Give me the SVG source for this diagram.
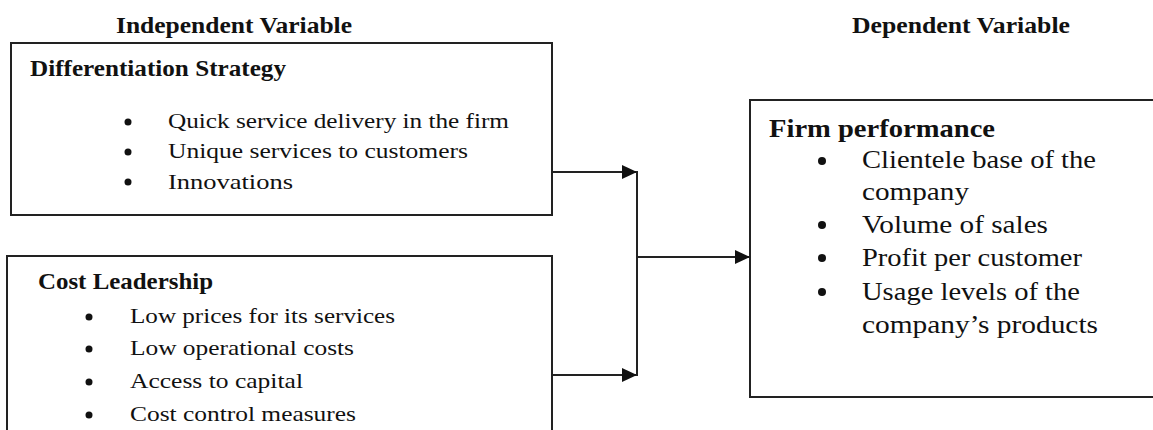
<svg xmlns="http://www.w3.org/2000/svg" width="1153" height="430" viewBox="0 0 1153 430">
<defs>
<style>
.box{fill:#fff;stroke:#222;stroke-width:2}
.t{font-family:"Liberation Serif","Times New Roman",serif;fill:#111}
.h{font-weight:bold;font-size:23px}
.b{font-size:22px}
.b3{font-size:26px}
.h3{font-weight:bold;font-size:26px}
.dot{fill:#111}
.conn{stroke:#222;stroke-width:2;fill:none}
</style>
<marker id="arr" markerUnits="userSpaceOnUse" markerWidth="15" markerHeight="14" refX="15" refY="7" orient="auto">
<path d="M0,0 L15,7 L0,14 z" fill="#111"/>
</marker>
</defs>
<rect width="1153" height="430" fill="#fff"/>
<g id="headers">
<text class="t h" x="116" y="33" textLength="236" lengthAdjust="spacingAndGlyphs">Independent Variable</text>
<text class="t h" x="852" y="33" textLength="218" lengthAdjust="spacingAndGlyphs">Dependent  Variable</text>
</g>
<g id="differentiation">
<rect class="box" x="11" y="43" width="541" height="172"/>
<text class="t h" x="30" y="76" textLength="256" lengthAdjust="spacingAndGlyphs">Differentiation Strategy</text>
<circle class="dot" cx="128" cy="122" r="3.5"/>
<circle class="dot" cx="128" cy="152" r="3.5"/>
<circle class="dot" cx="128" cy="182" r="3.5"/>
<text class="t b" x="168" y="128" textLength="341" lengthAdjust="spacingAndGlyphs">Quick service delivery in the firm</text>
<text class="t b" x="168" y="158" textLength="300" lengthAdjust="spacingAndGlyphs">Unique services to customers</text>
<text class="t b" x="168" y="189" textLength="125" lengthAdjust="spacingAndGlyphs">Innovations</text>
</g>
<g id="cost">
<rect class="box" x="7" y="256" width="545" height="190"/>
<text class="t h" x="38" y="289" textLength="175" lengthAdjust="spacingAndGlyphs">Cost Leadership</text>
<circle class="dot" cx="89" cy="317" r="3.5"/>
<circle class="dot" cx="89" cy="349" r="3.5"/>
<circle class="dot" cx="89" cy="382" r="3.5"/>
<circle class="dot" cx="89" cy="415" r="3.5"/>
<text class="t b" x="130" y="323" textLength="265" lengthAdjust="spacingAndGlyphs">Low prices  for its services</text>
<text class="t b" x="130" y="355" textLength="224" lengthAdjust="spacingAndGlyphs">Low operational costs</text>
<text class="t b" x="130" y="388" textLength="173" lengthAdjust="spacingAndGlyphs">Access to capital</text>
<text class="t b" x="130" y="421" textLength="226" lengthAdjust="spacingAndGlyphs">Cost control measures</text>
</g>
<g id="performance">
<rect class="box" x="750" y="100" width="420" height="297"/>
<text class="t h3" x="769" y="137" textLength="226" lengthAdjust="spacingAndGlyphs">Firm performance</text>
<circle class="dot" cx="822" cy="161" r="4"/>
<circle class="dot" cx="822" cy="225" r="4"/>
<circle class="dot" cx="822" cy="258" r="4"/>
<circle class="dot" cx="822" cy="292" r="4"/>
<text class="t b3" x="862" y="168" textLength="234" lengthAdjust="spacingAndGlyphs">Clientele base of the</text>
<text class="t b3" x="862" y="200" textLength="107" lengthAdjust="spacingAndGlyphs">company</text>
<text class="t b3" x="862" y="233" textLength="186" lengthAdjust="spacingAndGlyphs">Volume of sales</text>
<text class="t b3" x="862" y="266" textLength="220" lengthAdjust="spacingAndGlyphs">Profit per customer</text>
<text class="t b3" x="862" y="300" textLength="218" lengthAdjust="spacingAndGlyphs">Usage levels of the</text>
<text class="t b3" x="862" y="333" textLength="236" lengthAdjust="spacingAndGlyphs">company’s  products</text>
</g>
<g id="connectors">
<line class="conn" x1="552" y1="172" x2="637" y2="172" marker-end="url(#arr)"/>
<line class="conn" x1="552" y1="375" x2="637" y2="375" marker-end="url(#arr)"/>
<line class="conn" x1="637" y1="171" x2="637" y2="376"/>
<line class="conn" x1="637" y1="257" x2="750" y2="257" marker-end="url(#arr)"/>
</g>
</svg>
